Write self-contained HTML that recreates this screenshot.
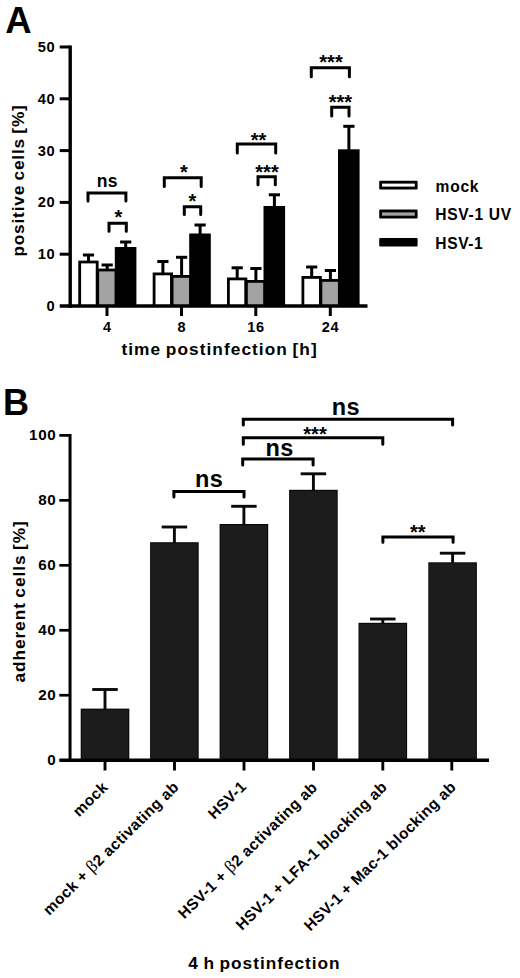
<!DOCTYPE html>
<html>
<head>
<meta charset="utf-8">
<title>Figure</title>
<style>
html, body { margin: 0; padding: 0; background: #fff; }
body { width: 520px; height: 978px; overflow: hidden; }
svg { display: block; }
svg text { font-family: "Liberation Sans", sans-serif; fill: #000; }
</style>
</head>
<body>
<svg width="520" height="978" viewBox="0 0 520 978">
<rect x="0" y="0" width="520" height="978" fill="#fff"/>
<line x1="88.50" y1="255.00" x2="88.50" y2="261.60" stroke="#000" stroke-width="3.0" stroke-linecap="butt"/>
<line x1="82.90" y1="255.00" x2="94.10" y2="255.00" stroke="#000" stroke-width="3.0" stroke-linecap="butt"/>
<line x1="107.20" y1="265.00" x2="107.20" y2="269.60" stroke="#000" stroke-width="3.0" stroke-linecap="butt"/>
<line x1="101.60" y1="265.00" x2="112.80" y2="265.00" stroke="#000" stroke-width="3.0" stroke-linecap="butt"/>
<line x1="125.70" y1="242.00" x2="125.70" y2="248.00" stroke="#000" stroke-width="3.0" stroke-linecap="butt"/>
<line x1="120.10" y1="242.00" x2="131.30" y2="242.00" stroke="#000" stroke-width="3.0" stroke-linecap="butt"/>
<rect x="78.30" y="260.60" width="20.30" height="45.40" fill="#000"/>
<rect x="81.10" y="263.40" width="14.70" height="42.60" fill="#fff"/>
<rect x="95.90" y="268.60" width="20.40" height="37.40" fill="#000"/>
<rect x="99.10" y="271.40" width="15.60" height="34.60" fill="#a3a3a3"/>
<rect x="114.80" y="247.00" width="21.60" height="59.00" fill="#000"/>
<line x1="162.90" y1="261.50" x2="162.90" y2="273.50" stroke="#000" stroke-width="3.0" stroke-linecap="butt"/>
<line x1="157.30" y1="261.50" x2="168.50" y2="261.50" stroke="#000" stroke-width="3.0" stroke-linecap="butt"/>
<line x1="181.60" y1="257.30" x2="181.60" y2="276.00" stroke="#000" stroke-width="3.0" stroke-linecap="butt"/>
<line x1="176.00" y1="257.30" x2="187.20" y2="257.30" stroke="#000" stroke-width="3.0" stroke-linecap="butt"/>
<line x1="200.10" y1="225.00" x2="200.10" y2="234.50" stroke="#000" stroke-width="3.0" stroke-linecap="butt"/>
<line x1="194.50" y1="225.00" x2="205.70" y2="225.00" stroke="#000" stroke-width="3.0" stroke-linecap="butt"/>
<rect x="152.70" y="272.50" width="20.30" height="33.50" fill="#000"/>
<rect x="155.50" y="275.30" width="14.70" height="30.70" fill="#fff"/>
<rect x="170.30" y="275.00" width="20.40" height="31.00" fill="#000"/>
<rect x="173.50" y="277.80" width="15.60" height="28.20" fill="#a3a3a3"/>
<rect x="189.20" y="233.50" width="21.60" height="72.50" fill="#000"/>
<line x1="237.20" y1="267.80" x2="237.20" y2="278.50" stroke="#000" stroke-width="3.0" stroke-linecap="butt"/>
<line x1="231.60" y1="267.80" x2="242.80" y2="267.80" stroke="#000" stroke-width="3.0" stroke-linecap="butt"/>
<line x1="255.90" y1="268.50" x2="255.90" y2="281.00" stroke="#000" stroke-width="3.0" stroke-linecap="butt"/>
<line x1="250.30" y1="268.50" x2="261.50" y2="268.50" stroke="#000" stroke-width="3.0" stroke-linecap="butt"/>
<line x1="274.40" y1="194.80" x2="274.40" y2="207.00" stroke="#000" stroke-width="3.0" stroke-linecap="butt"/>
<line x1="268.80" y1="194.80" x2="280.00" y2="194.80" stroke="#000" stroke-width="3.0" stroke-linecap="butt"/>
<rect x="227.00" y="277.50" width="20.30" height="28.50" fill="#000"/>
<rect x="229.80" y="280.30" width="14.70" height="25.70" fill="#fff"/>
<rect x="244.60" y="280.00" width="20.40" height="26.00" fill="#000"/>
<rect x="247.80" y="282.80" width="15.60" height="23.20" fill="#a3a3a3"/>
<rect x="263.50" y="206.00" width="21.60" height="100.00" fill="#000"/>
<line x1="311.70" y1="267.00" x2="311.70" y2="277.00" stroke="#000" stroke-width="3.0" stroke-linecap="butt"/>
<line x1="306.10" y1="267.00" x2="317.30" y2="267.00" stroke="#000" stroke-width="3.0" stroke-linecap="butt"/>
<line x1="330.40" y1="270.50" x2="330.40" y2="280.00" stroke="#000" stroke-width="3.0" stroke-linecap="butt"/>
<line x1="324.80" y1="270.50" x2="336.00" y2="270.50" stroke="#000" stroke-width="3.0" stroke-linecap="butt"/>
<line x1="348.90" y1="126.30" x2="348.90" y2="150.30" stroke="#000" stroke-width="3.0" stroke-linecap="butt"/>
<line x1="343.30" y1="126.30" x2="354.50" y2="126.30" stroke="#000" stroke-width="3.0" stroke-linecap="butt"/>
<rect x="301.50" y="276.00" width="20.30" height="30.00" fill="#000"/>
<rect x="304.30" y="278.80" width="14.70" height="27.20" fill="#fff"/>
<rect x="319.10" y="279.00" width="20.40" height="27.00" fill="#000"/>
<rect x="322.30" y="281.80" width="15.60" height="24.20" fill="#a3a3a3"/>
<rect x="338.00" y="149.30" width="21.60" height="156.70" fill="#000"/>
<line x1="70.20" y1="45.50" x2="70.20" y2="307.80" stroke="#000" stroke-width="3.4" stroke-linecap="butt"/>
<line x1="59.70" y1="306.00" x2="367.50" y2="306.00" stroke="#000" stroke-width="3.7" stroke-linecap="butt"/>
<text x="55.40" y="311.00" font-size="14.7" text-anchor="end" letter-spacing="0.7" font-weight="bold" >0</text>
<line x1="59.70" y1="254.20" x2="70.20" y2="254.20" stroke="#000" stroke-width="3.0" stroke-linecap="butt"/>
<text x="55.40" y="259.20" font-size="14.7" text-anchor="end" letter-spacing="0.7" font-weight="bold" >10</text>
<line x1="59.70" y1="202.40" x2="70.20" y2="202.40" stroke="#000" stroke-width="3.0" stroke-linecap="butt"/>
<text x="55.40" y="207.40" font-size="14.7" text-anchor="end" letter-spacing="0.7" font-weight="bold" >20</text>
<line x1="59.70" y1="150.60" x2="70.20" y2="150.60" stroke="#000" stroke-width="3.0" stroke-linecap="butt"/>
<text x="55.40" y="155.60" font-size="14.7" text-anchor="end" letter-spacing="0.7" font-weight="bold" >30</text>
<line x1="59.70" y1="98.80" x2="70.20" y2="98.80" stroke="#000" stroke-width="3.0" stroke-linecap="butt"/>
<text x="55.40" y="103.80" font-size="14.7" text-anchor="end" letter-spacing="0.7" font-weight="bold" >40</text>
<line x1="59.70" y1="47.00" x2="70.20" y2="47.00" stroke="#000" stroke-width="3.0" stroke-linecap="butt"/>
<text x="55.40" y="52.00" font-size="14.7" text-anchor="end" letter-spacing="0.7" font-weight="bold" >50</text>
<line x1="107.00" y1="306.00" x2="107.00" y2="316.00" stroke="#000" stroke-width="3.0" stroke-linecap="butt"/>
<text x="107.30" y="331.60" font-size="14.5" text-anchor="middle" letter-spacing="0.7" font-weight="bold" >4</text>
<line x1="181.50" y1="306.00" x2="181.50" y2="316.00" stroke="#000" stroke-width="3.0" stroke-linecap="butt"/>
<text x="181.80" y="331.60" font-size="14.5" text-anchor="middle" letter-spacing="0.7" font-weight="bold" >8</text>
<line x1="255.80" y1="306.00" x2="255.80" y2="316.00" stroke="#000" stroke-width="3.0" stroke-linecap="butt"/>
<text x="256.10" y="331.60" font-size="14.5" text-anchor="middle" letter-spacing="0.7" font-weight="bold" >16</text>
<line x1="330.30" y1="306.00" x2="330.30" y2="316.00" stroke="#000" stroke-width="3.0" stroke-linecap="butt"/>
<text x="330.60" y="331.60" font-size="14.5" text-anchor="middle" letter-spacing="0.7" font-weight="bold" >24</text>
<path d="M88.00 201.00 V192.90 H125.90 V201.00" fill="none" stroke="#000" stroke-width="3.0" stroke-linecap="round" stroke-linejoin="miter"/>
<path d="M109.00 231.30 V223.30 H126.30 V231.30" fill="none" stroke="#000" stroke-width="3.0" stroke-linecap="round" stroke-linejoin="miter"/>
<path d="M164.30 186.50 V177.70 H201.20 V186.50" fill="none" stroke="#000" stroke-width="3.0" stroke-linecap="round" stroke-linejoin="miter"/>
<path d="M184.30 214.50 V206.70 H200.70 V214.50" fill="none" stroke="#000" stroke-width="3.0" stroke-linecap="round" stroke-linejoin="miter"/>
<path d="M237.30 153.00 V144.10 H275.70 V153.00" fill="none" stroke="#000" stroke-width="3.0" stroke-linecap="round" stroke-linejoin="miter"/>
<path d="M258.00 184.80 V176.70 H275.30 V184.80" fill="none" stroke="#000" stroke-width="3.0" stroke-linecap="round" stroke-linejoin="miter"/>
<path d="M311.30 76.70 V67.80 H349.40 V76.70" fill="none" stroke="#000" stroke-width="3.0" stroke-linecap="round" stroke-linejoin="miter"/>
<path d="M331.70 116.00 V107.20 H349.00 V116.00" fill="none" stroke="#000" stroke-width="3.0" stroke-linecap="round" stroke-linejoin="miter"/>
<text x="107.40" y="187.30" font-size="17.6" text-anchor="middle" letter-spacing="0.4" font-weight="bold" >ns</text>
<text x="118.50" y="224.30" font-size="20" text-anchor="middle" letter-spacing="0" font-weight="bold" >*</text>
<text x="184.00" y="179.30" font-size="20" text-anchor="middle" letter-spacing="0" font-weight="bold" >*</text>
<text x="192.50" y="207.80" font-size="20" text-anchor="middle" letter-spacing="0" font-weight="bold" >*</text>
<text x="258.50" y="146.70" font-size="20" text-anchor="middle" letter-spacing="0" font-weight="bold" >**</text>
<text x="267.00" y="179.30" font-size="20" text-anchor="middle" letter-spacing="0" font-weight="bold" >***</text>
<text x="331.00" y="69.30" font-size="20" text-anchor="middle" letter-spacing="0" font-weight="bold" >***</text>
<text x="340.40" y="108.80" font-size="20" text-anchor="middle" letter-spacing="0" font-weight="bold" >***</text>
<rect x="379.2" y="180.8" width="38.4" height="8.60" rx="1" fill="#000"/>
<rect x="382.00" y="183.60" width="32.80" height="3.00" fill="#fff"/>
<rect x="379.2" y="209.6" width="38.4" height="8.90" rx="1" fill="#000"/>
<rect x="382.00" y="212.40" width="32.80" height="3.30" fill="#a3a3a3"/>
<rect x="379.2" y="237.9" width="38.4" height="8.60" rx="1" fill="#000"/>
<rect x="382.00" y="240.70" width="32.80" height="3.00" fill="#000"/>
<text x="435.60" y="191.50" font-size="15.6" text-anchor="start" letter-spacing="0.7" font-weight="bold" >mock</text>
<text x="435.30" y="220.40" font-size="15.6" text-anchor="start" letter-spacing="0.68" font-weight="bold" >HSV-1 UV</text>
<text x="435.30" y="248.80" font-size="15.6" text-anchor="start" letter-spacing="0.6" font-weight="bold" >HSV-1</text>
<text x="121.40" y="355.40" font-size="17.3" text-anchor="start" letter-spacing="1.05" font-weight="bold" word-spacing="-1.2">time postinfection [h]</text>
<text transform="translate(24.3 256.6) rotate(-90)" font-size="17.3" letter-spacing="0.8" word-spacing="-1.2" font-weight="bold">positive cells [%]</text>
<text x="5.20" y="33.00" font-size="36.5" text-anchor="start" letter-spacing="0" font-weight="bold" >A</text>
<line x1="105.00" y1="689.50" x2="105.00" y2="709.80" stroke="#0a0a0a" stroke-width="2.9" stroke-linecap="butt"/>
<line x1="92.25" y1="689.50" x2="117.75" y2="689.50" stroke="#0a0a0a" stroke-width="2.9" stroke-linecap="butt"/>
<rect x="80.70" y="708.60" width="48.60" height="51.60" fill="#080808"/>
<rect x="81.70" y="709.70" width="46.60" height="50.50" fill="#1c1c1c"/>
<line x1="174.40" y1="527.00" x2="174.40" y2="543.40" stroke="#0a0a0a" stroke-width="2.9" stroke-linecap="butt"/>
<line x1="161.65" y1="527.00" x2="187.15" y2="527.00" stroke="#0a0a0a" stroke-width="2.9" stroke-linecap="butt"/>
<rect x="150.10" y="542.20" width="48.60" height="218.00" fill="#080808"/>
<rect x="151.10" y="543.30" width="46.60" height="216.90" fill="#1c1c1c"/>
<line x1="243.90" y1="506.30" x2="243.90" y2="525.20" stroke="#0a0a0a" stroke-width="2.9" stroke-linecap="butt"/>
<line x1="231.15" y1="506.30" x2="256.65" y2="506.30" stroke="#0a0a0a" stroke-width="2.9" stroke-linecap="butt"/>
<rect x="219.60" y="524.00" width="48.60" height="236.20" fill="#080808"/>
<rect x="220.60" y="525.10" width="46.60" height="235.10" fill="#1c1c1c"/>
<line x1="313.40" y1="473.80" x2="313.40" y2="491.00" stroke="#0a0a0a" stroke-width="2.9" stroke-linecap="butt"/>
<line x1="300.65" y1="473.80" x2="326.15" y2="473.80" stroke="#0a0a0a" stroke-width="2.9" stroke-linecap="butt"/>
<rect x="289.10" y="489.80" width="48.60" height="270.40" fill="#080808"/>
<rect x="290.10" y="490.90" width="46.60" height="269.30" fill="#1c1c1c"/>
<line x1="382.80" y1="619.00" x2="382.80" y2="624.00" stroke="#0a0a0a" stroke-width="2.9" stroke-linecap="butt"/>
<line x1="370.05" y1="619.00" x2="395.55" y2="619.00" stroke="#0a0a0a" stroke-width="2.9" stroke-linecap="butt"/>
<rect x="358.50" y="622.80" width="48.60" height="137.40" fill="#080808"/>
<rect x="359.50" y="623.90" width="46.60" height="136.30" fill="#1c1c1c"/>
<line x1="452.60" y1="553.20" x2="452.60" y2="563.50" stroke="#0a0a0a" stroke-width="2.9" stroke-linecap="butt"/>
<line x1="439.85" y1="553.20" x2="465.35" y2="553.20" stroke="#0a0a0a" stroke-width="2.9" stroke-linecap="butt"/>
<rect x="428.30" y="562.30" width="48.60" height="197.90" fill="#080808"/>
<rect x="429.30" y="563.40" width="46.60" height="196.80" fill="#1c1c1c"/>
<line x1="70.05" y1="434.10" x2="70.05" y2="761.90" stroke="#000" stroke-width="3.0" stroke-linecap="butt"/>
<line x1="59.30" y1="760.20" x2="489.00" y2="760.20" stroke="#000" stroke-width="3.4" stroke-linecap="butt"/>
<text x="56.50" y="764.60" font-size="15.2" text-anchor="end" letter-spacing="0.7" font-weight="bold" >0</text>
<line x1="59.30" y1="695.24" x2="70.05" y2="695.24" stroke="#000" stroke-width="2.7" stroke-linecap="butt"/>
<text x="56.50" y="699.64" font-size="15.2" text-anchor="end" letter-spacing="0.7" font-weight="bold" >20</text>
<line x1="59.30" y1="630.28" x2="70.05" y2="630.28" stroke="#000" stroke-width="2.7" stroke-linecap="butt"/>
<text x="56.50" y="634.68" font-size="15.2" text-anchor="end" letter-spacing="0.7" font-weight="bold" >40</text>
<line x1="59.30" y1="565.32" x2="70.05" y2="565.32" stroke="#000" stroke-width="2.7" stroke-linecap="butt"/>
<text x="56.50" y="569.72" font-size="15.2" text-anchor="end" letter-spacing="0.7" font-weight="bold" >60</text>
<line x1="59.30" y1="500.36" x2="70.05" y2="500.36" stroke="#000" stroke-width="2.7" stroke-linecap="butt"/>
<text x="56.50" y="504.76" font-size="15.2" text-anchor="end" letter-spacing="0.7" font-weight="bold" >80</text>
<line x1="59.30" y1="435.40" x2="70.05" y2="435.40" stroke="#000" stroke-width="2.7" stroke-linecap="butt"/>
<text x="56.50" y="439.80" font-size="15.2" text-anchor="end" letter-spacing="0.7" font-weight="bold" >100</text>
<line x1="105.00" y1="760.20" x2="105.00" y2="770.50" stroke="#000" stroke-width="2.9" stroke-linecap="butt"/>
<line x1="174.50" y1="760.20" x2="174.50" y2="770.50" stroke="#000" stroke-width="2.9" stroke-linecap="butt"/>
<line x1="244.00" y1="760.20" x2="244.00" y2="770.50" stroke="#000" stroke-width="2.9" stroke-linecap="butt"/>
<line x1="313.50" y1="760.20" x2="313.50" y2="770.50" stroke="#000" stroke-width="2.9" stroke-linecap="butt"/>
<line x1="382.80" y1="760.20" x2="382.80" y2="770.50" stroke="#000" stroke-width="2.9" stroke-linecap="butt"/>
<line x1="451.80" y1="760.20" x2="451.80" y2="770.50" stroke="#000" stroke-width="2.9" stroke-linecap="butt"/>
<path d="M173.90 497.00 V491.50 H244.00 V497.00" fill="none" stroke="#000" stroke-width="3.0" stroke-linecap="round" stroke-linejoin="miter"/>
<path d="M242.70 465.00 V459.00 H313.10 V465.00" fill="none" stroke="#000" stroke-width="3.0" stroke-linecap="round" stroke-linejoin="miter"/>
<path d="M243.30 444.20 V437.70 H382.80 V444.20" fill="none" stroke="#000" stroke-width="3.0" stroke-linecap="round" stroke-linejoin="miter"/>
<path d="M243.30 425.00 V419.20 H452.60 V425.00" fill="none" stroke="#000" stroke-width="3.0" stroke-linecap="round" stroke-linejoin="miter"/>
<path d="M382.90 542.30 V537.00 H453.10 V542.30" fill="none" stroke="#000" stroke-width="3.0" stroke-linecap="round" stroke-linejoin="miter"/>
<text x="209.20" y="487.00" font-size="23.5" text-anchor="middle" letter-spacing="0.4" font-weight="bold" >ns</text>
<text x="279.50" y="456.30" font-size="23.5" text-anchor="middle" letter-spacing="0.4" font-weight="bold" >ns</text>
<text x="345.80" y="415.20" font-size="23.5" text-anchor="middle" letter-spacing="0.4" font-weight="bold" >ns</text>
<text x="315.00" y="441.30" font-size="20" text-anchor="middle" letter-spacing="0" font-weight="bold" >***</text>
<text x="417.80" y="538.70" font-size="20" text-anchor="middle" letter-spacing="0" font-weight="bold" >**</text>
<text transform="translate(108.80 788.20) rotate(-44.4)" font-size="15.4" letter-spacing="0.4" font-weight="bold" text-anchor="end">mock</text>
<text transform="translate(179.80 788.00) rotate(-44.4)" font-size="15.4" letter-spacing="0.4" font-weight="bold" text-anchor="end">mock + <tspan font-family="Liberation Serif" font-weight="normal" font-size="17.5">&#946;</tspan>2 activating ab</text>
<text transform="translate(247.40 787.50) rotate(-44.4)" font-size="15.4" letter-spacing="0.4" font-weight="bold" text-anchor="end">HSV-1</text>
<text transform="translate(318.30 788.30) rotate(-44.4)" font-size="15.4" letter-spacing="0.4" font-weight="bold" text-anchor="end">HSV-1 + <tspan font-family="Liberation Serif" font-weight="normal" font-size="17.5">&#946;</tspan>2 activating ab</text>
<text transform="translate(388.10 788.00) rotate(-44.4)" font-size="15.4" letter-spacing="0.4" font-weight="bold" text-anchor="end">HSV-1 + LFA-1 blocking ab</text>
<text transform="translate(457.10 788.00) rotate(-44.4)" font-size="15.4" letter-spacing="0.4" font-weight="bold" text-anchor="end">HSV-1 + Mac-1 blocking ab</text>
<text transform="translate(25.2 682.6) rotate(-90)" font-size="17.3" letter-spacing="0.93" word-spacing="-1.2" font-weight="bold">adherent cells [%]</text>
<text x="188.30" y="969.30" font-size="17.3" text-anchor="start" letter-spacing="0.97" font-weight="bold" word-spacing="-1.2">4 h postinfection</text>
<text x="3.00" y="415.00" font-size="36.1" text-anchor="start" letter-spacing="0" font-weight="bold" >B</text>
</svg>
</body>
</html>
